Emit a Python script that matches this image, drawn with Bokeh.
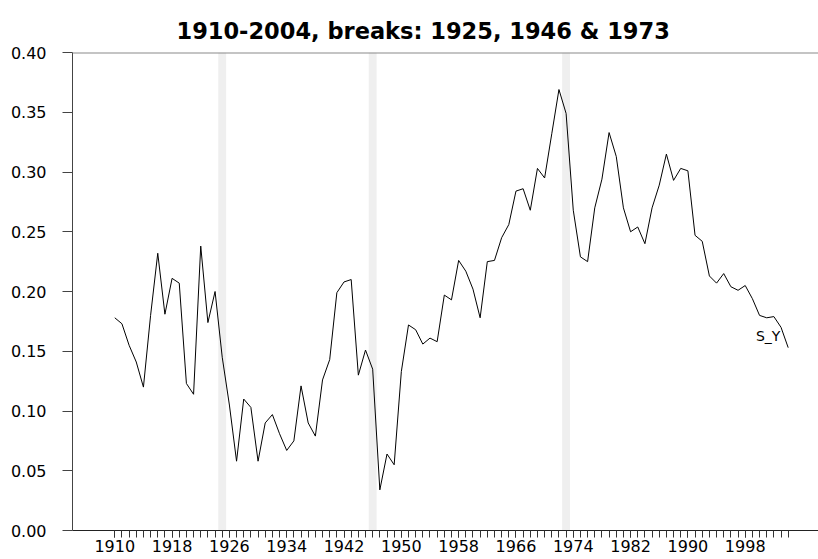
from bokeh.plotting import figure
from bokeh.models import FixedTicker, Range1d, Span, Label, NumeralTickFormatter
from bokeh.embed import file_html
from bokeh.resources import INLINE

# ---- data ----
years = list(range(1910, 2005))
s_y = [
    0.178, 0.173, 0.155, 0.141, 0.120, 0.180, 0.232, 0.181, 0.211, 0.207,  # 1910-1919
    0.123, 0.114, 0.238, 0.174, 0.200, 0.145, 0.105, 0.058, 0.110, 0.103,  # 1920-1929
    0.058, 0.090, 0.097, 0.081, 0.067, 0.075, 0.121, 0.090, 0.079, 0.126,  # 1930-1939
    0.143, 0.199, 0.208, 0.210, 0.130, 0.151, 0.135, 0.034, 0.064, 0.055,  # 1940-1949
    0.133, 0.172, 0.168, 0.156, 0.161, 0.158, 0.197, 0.193, 0.226, 0.217,  # 1950-1959
    0.202, 0.178, 0.225, 0.226, 0.245, 0.256, 0.284, 0.286, 0.268, 0.303,  # 1960-1969
    0.295, 0.332, 0.369, 0.349, 0.268, 0.229, 0.225, 0.270, 0.294, 0.333,  # 1970-1979
    0.313, 0.270, 0.250, 0.254, 0.240, 0.270, 0.289, 0.315, 0.293, 0.303,  # 1980-1989
    0.301, 0.247, 0.242, 0.213, 0.207, 0.215, 0.204, 0.201, 0.205, 0.194,  # 1990-1999
    0.180, 0.178, 0.179, 0.170, 0.153,                                     # 2000-2004
]
break_years = [1925, 1946, 1973]
x_label_years = list(range(1910, 2000, 8))
y_ticks = [0.00, 0.05, 0.10, 0.15, 0.20, 0.25, 0.30, 0.35, 0.40]
title_text = "1910-2004, breaks: 1925, 1946 & 1973"
series_name = "S_Y"

FONT = "DejaVu Sans"

p = figure(
    width=818, height=559,
    x_range=Range1d(1904.1, 2008.23),
    y_range=Range1d(0.0, 0.40),
    min_border_left=72, min_border_right=0,
    min_border_top=52, min_border_bottom=29,
    output_backend="svg", toolbar_location=None,
)
p.outline_line_color = None
p.xgrid.grid_line_color = None
p.ygrid.grid_line_color = None
p.background_fill_color = "white"
p.border_fill_color = "white"

# title
p.title.text = title_text
p.title.align = "left"
p.title.offset = 104
p.title.text_font = FONT
p.title.text_font_style = "bold"
p.title.text_font_size = "22.5px"
p.title.text_color = "black"
p.title.standoff = 17

# break bands
p.vbar(x=break_years, width=1.1, bottom=0.0, top=0.40,
       fill_color="#efefef", line_color=None)

# top line at 0.40
p.add_layout(Span(location=0.40, dimension="width",
                  line_color="#8a8a8a", line_width=2))

# series
p.line(years, s_y, line_color="black", line_width=1)

# x axis
xa = p.xaxis[0]
xa.ticker = FixedTicker(ticks=x_label_years, minor_ticks=years)
xa.major_tick_out = 7
xa.major_tick_in = 0
xa.minor_tick_out = 7
xa.minor_tick_in = 0
xa.major_label_standoff = 2
xa.major_label_text_font = FONT
xa.major_label_text_font_size = "16px"
xa.major_label_text_color = "black"
xa.axis_line_color = "#222222"
xa.major_tick_line_color = "#333333"
xa.minor_tick_line_color = "#333333"

# y axis
ya = p.yaxis[0]
ya.ticker = FixedTicker(ticks=y_ticks)
ya.formatter = NumeralTickFormatter(format="0.00")
ya.major_tick_out = 10
ya.major_tick_in = 0
ya.minor_tick_out = 0
ya.minor_tick_in = 0
ya.major_label_standoff = 16
ya.major_label_text_font = FONT
ya.major_label_text_font_size = "16px"
ya.major_label_text_color = "black"
ya.axis_line_color = "#444444"
ya.major_tick_line_color = "#444444"

# series label
p.add_layout(Label(x=2002.9, y=0.163, text=series_name,
                   text_font=FONT, text_font_size="14px",
                   text_align="right", text_baseline="middle",
                   text_color="black"))

open("out.html", "w").write(file_html(p, INLINE))
